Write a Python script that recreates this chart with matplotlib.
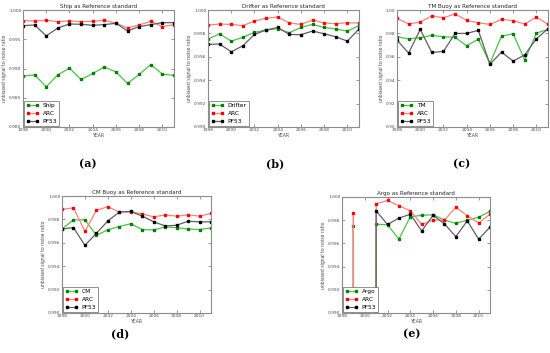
import numpy as np
import matplotlib
matplotlib.use("Agg")
import matplotlib.pyplot as plt

years = list(range(1998, 2012))

# (a) Ship as reference
ship_a = [0.98869, 0.98892, 0.98688, 0.98892, 0.99006, 0.98812, 0.98915,
          0.99023, 0.98943, 0.98744, 0.98898, 0.99068, 0.98903, 0.98881]
arc_a = [0.99818, 0.99813, 0.99824, 0.99801, 0.99813, 0.99801, 0.99807,
         0.99824, 0.99773, 0.99693, 0.99744, 0.99807, 0.99716, 0.99750]
pf53_a = [0.99733, 0.99744, 0.99557, 0.99693, 0.99761, 0.99756, 0.99739,
          0.99750, 0.99773, 0.99642, 0.99716, 0.99750, 0.99784, 0.99784]

# (b) Drifter as reference
drifter_b = [0.99751, 0.99797, 0.99734, 0.99766, 0.99809, 0.99829, 0.99840,
             0.99806, 0.99851, 0.99877, 0.99851, 0.99837, 0.99820, 0.99866]
arc_b = [0.99871, 0.99880, 0.99877, 0.99866, 0.99906, 0.99929, 0.99940,
         0.99889, 0.99877, 0.99914, 0.99889, 0.99883, 0.99891, 0.99889]
pf53_b = [0.99706, 0.99709, 0.99643, 0.99694, 0.99791, 0.99829, 0.99851,
          0.99791, 0.99789, 0.99820, 0.99797, 0.99771, 0.99734, 0.99837]

# (c) TM Buoy as reference
tm_c = [0.9771, 0.9754, 0.9763, 0.9783, 0.9771, 0.9766, 0.9694,
        0.9751, 0.9543, 0.9777, 0.9797, 0.9571, 0.9803, 0.9834]
arc_c = [0.9929, 0.9880, 0.9897, 0.9949, 0.9934, 0.9966, 0.9911,
         0.9891, 0.9877, 0.9920, 0.9909, 0.9880, 0.9940, 0.9877]
pf53_c = [0.9743, 0.9631, 0.9834, 0.9637, 0.9646, 0.9800, 0.9800,
          0.9826, 0.9537, 0.9640, 0.9563, 0.9617, 0.9754, 0.9840]

# (d) CM Buoy as reference
cm_d = [0.99718, 0.99796, 0.99796, 0.99664, 0.99711, 0.99739, 0.99763,
        0.99713, 0.99710, 0.99735, 0.99730, 0.99718, 0.99713, 0.99727]
arc_d = [0.99885, 0.99899, 0.99698, 0.99877, 0.99909, 0.99862, 0.99865,
         0.99847, 0.99822, 0.99838, 0.99828, 0.99839, 0.99828, 0.99851]
pf53_d = [0.99718, 0.99730, 0.99578, 0.99681, 0.99787, 0.99863, 0.99868,
          0.99828, 0.99779, 0.99744, 0.99750, 0.99784, 0.99779, 0.99779]

# (e) Argo as reference (1998 / 2000 far off-scale)
argo_e = [0.0, 0.99751, 0.0, 0.99766, 0.99760, 0.99637, 0.99830, 0.99842,
          0.99847, 0.99801, 0.99772, 0.99801, 0.99825, 0.99877]
arc_e = [0.0, 0.99862, 0.0, 0.99941, 0.99970, 0.99924, 0.99882, 0.99763,
         0.99801, 0.99801, 0.99912, 0.99839, 0.99777, 0.99851]
pf53_e = [0.0, 0.0, 0.0, 0.99880, 0.99763, 0.99818, 0.99851, 0.99707,
          0.99842, 0.99768, 0.99658, 0.99795, 0.99637, 0.99740]

xticks = [1998, 2000, 2002, 2004, 2006, 2008, 2010]

panels = [
    ("Ship", ship_a, arc_a, pf53_a, (0.980, 1.000), np.arange(0.980, 1.0001, 0.005), "%.3f"),
    ("Drifter", drifter_b, arc_b, pf53_b, (0.990, 1.000), np.arange(0.990, 1.0001, 0.002), "%.3f"),
    ("TM Buoy", tm_c, arc_c, pf53_c, (0.90, 1.00), np.arange(0.90, 1.0001, 0.02), "%.2f"),
    ("CM Buoy", cm_d, arc_d, pf53_d, (0.990, 1.000), np.arange(0.990, 1.0001, 0.002), "%.3f"),
    ("Argo", argo_e, arc_e, pf53_e, (0.990, 1.000), np.arange(0.990, 1.0001, 0.002), "%.3f"),
]
legend_names = ["Ship", "Drifter", "TM", "CM", "Argo"]
letters = ["(a)", "(b)", "(c)", "(d)", "(e)"]

W, H = 550, 353
# axes boxes in pixels: left, top, right, bottom
boxes = [(23, 10, 174, 127), (208, 10, 359, 127), (397, 10, 548, 127),
         (62, 196, 211, 313), (342, 197, 490, 313)]
label_pos = [(88, 164), (275, 164), (462, 164), (120, 334), (412, 334)]

fig = plt.figure(figsize=(5.5, 3.53), dpi=100)
fig.patch.set_facecolor("white")

light = {"#008000": "#4cc24c", "red": "#ff8080", "black": "#606060"}

for i, (name, ref, arc, pf, ylim, yt, fmt) in enumerate(panels):
    l, t, r, b = boxes[i]
    ax = fig.add_axes([l / W, 1 - b / H, (r - l) / W, (b - t) / H])
    for vals, col, lab in [(ref, "#008000", legend_names[i]), (arc, "red", "ARC"), (pf, "black", "PF53")]:
        ax.plot(years, vals, color=light[col], lw=0.9, marker="s", ms=1.8,
                mfc=col, mec=col, label=lab)
    ax.set_xlim(1998, 2011)
    ax.set_ylim(*ylim)
    ax.set_xticks(xticks)
    ax.set_yticks(yt)
    ax.set_yticklabels([fmt % v for v in yt])
    ax.tick_params(direction="in", top=True, right=True, labelsize=3.2,
                   length=2, width=0.4, pad=1, colors="0.3")
    for s in ax.spines.values():
        s.set_color("0.55")
        s.set_linewidth(0.8)
    ax.set_title(name + " as Reference standard", fontsize=4.1, pad=1.5, color="0.15")
    ax.set_xlabel("YEAR", fontsize=3.3, labelpad=0.5, color="0.3")
    ax.set_ylabel("unbiased signal to noise ratio", fontsize=3.3, labelpad=1.5, color="0.3")
    leg = ax.legend(loc="lower left", fontsize=4.2, numpoints=2, handlelength=2.2,
                    borderpad=0.4, labelspacing=0.45, handletextpad=0.6,
                    borderaxespad=0.15, fancybox=False, framealpha=1)
    leg.get_frame().set_edgecolor("0.4")
    leg.get_frame().set_linewidth(0.5)
    fig.text(label_pos[i][0] / W, 1 - label_pos[i][1] / H, letters[i],
             ha="center", va="center", fontsize=8, fontweight="bold",
             family="DejaVu Serif")

fig.savefig("out.png", dpi=100, facecolor="white")
